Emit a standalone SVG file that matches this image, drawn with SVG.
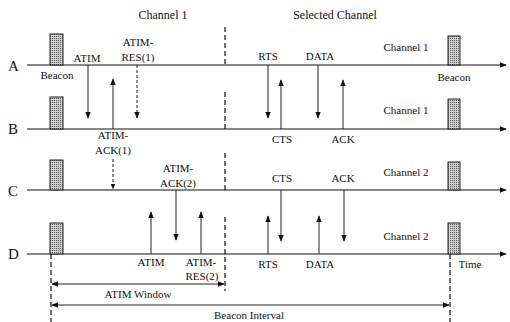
<svg xmlns="http://www.w3.org/2000/svg" width="510" height="322" viewBox="0 0 510 322">
<style>
text{font-family:"Liberation Serif","Times New Roman",serif;font-size:11px;fill:#111}
.big{font-size:15px}
.hdr{font-size:12px}
.tl{stroke:#111;stroke-width:1.2;fill:none}
.msg{stroke:#222;stroke-width:1;fill:none}
.dsh{stroke:#222;stroke-width:1;fill:none;stroke-dasharray:3,2}
.vd{stroke:#111;stroke-width:1.2;fill:none;stroke-dasharray:5,3}
.bcn{fill:url(#dots);stroke:#222;stroke-width:1}
</style>
<defs>
<pattern id="dots" width="2" height="2" patternUnits="userSpaceOnUse">
<rect width="2" height="2" fill="#cfcfcf"/>
<rect width="1" height="1" fill="#555"/>
</pattern>
<marker id="ah" viewBox="0 0 10 10" refX="9" refY="5" markerWidth="7" markerHeight="7" orient="auto-start-reverse" markerUnits="userSpaceOnUse">
<path d="M0,1 L10,5 L0,9 z" fill="#111"/>
</marker>
<marker id="ahs" viewBox="0 0 10 10" refX="9" refY="5" markerWidth="6" markerHeight="6" orient="auto-start-reverse" markerUnits="userSpaceOnUse">
<path d="M0,1 L10,5 L0,9 z" fill="#111"/>
</marker>
</defs>

<g id="headers">
<text class="hdr" x="163" y="19" text-anchor="middle">Channel 1</text>
<text class="hdr" x="335" y="19" text-anchor="middle">Selected Channel</text>
</g>

<g id="nodeA">
<text class="big" x="8" y="71">A</text>
<line class="tl" x1="27" y1="65" x2="506" y2="65" marker-end="url(#ah)"/>
<rect class="bcn" x="50" y="34" width="13" height="31"/>
<rect class="bcn" x="448" y="36" width="12" height="29"/>
<text x="57" y="79" text-anchor="middle">Beacon</text>
<text x="454" y="81" text-anchor="middle">Beacon</text>
<text x="406" y="51" text-anchor="middle">Channel 1</text>
</g>

<g id="nodeB">
<text class="big" x="8" y="134">B</text>
<line class="tl" x1="27" y1="129" x2="506" y2="129" marker-end="url(#ah)"/>
<rect class="bcn" x="50" y="97" width="13" height="32"/>
<rect class="bcn" x="448" y="99" width="12" height="30"/>
<text x="406" y="114" text-anchor="middle">Channel 1</text>
</g>

<g id="nodeC">
<text class="big" x="8" y="196">C</text>
<line class="tl" x1="27" y1="190" x2="506" y2="190" marker-end="url(#ah)"/>
<rect class="bcn" x="50" y="160" width="13" height="30"/>
<rect class="bcn" x="448" y="162" width="12" height="28"/>
<text x="406" y="176" text-anchor="middle">Channel 2</text>
</g>

<g id="nodeD">
<text class="big" x="8" y="259">D</text>
<line class="tl" x1="27" y1="254" x2="506" y2="254" marker-end="url(#ah)"/>
<rect class="bcn" x="50" y="223" width="13" height="31"/>
<rect class="bcn" x="448" y="223" width="12" height="31"/>
<text x="406" y="240" text-anchor="middle">Channel 2</text>
<text x="470" y="268" text-anchor="middle">Time</text>
</g>

<g id="connectors">
<line class="vd" x1="225" y1="27" x2="225" y2="65"/>
<line class="vd" x1="225" y1="92" x2="225" y2="129"/>
<line class="vd" x1="225" y1="153" x2="225" y2="190"/>
<line class="vd" x1="225" y1="217" x2="225" y2="291"/>
<line class="vd" x1="51" y1="254" x2="51" y2="322"/>
<line class="vd" x1="450" y1="254" x2="450" y2="322"/>

<line class="msg" x1="88" y1="65" x2="88" y2="118" marker-end="url(#ah)"/>
<text x="87" y="62" text-anchor="middle">ATIM</text>
<line class="msg" x1="113" y1="129" x2="113" y2="79" marker-end="url(#ah)"/>
<line class="dsh" x1="137" y1="65" x2="137" y2="118" marker-end="url(#ah)"/>
<text x="138" y="46" text-anchor="middle">ATIM-</text>
<text x="138" y="61" text-anchor="middle">RES(1)</text>
<text x="113" y="139" text-anchor="middle">ATIM-</text>
<text x="113" y="154" text-anchor="middle">ACK(1)</text>
<line class="dsh" x1="113" y1="159" x2="113" y2="189" marker-end="url(#ahs)"/>

<text x="178" y="172" text-anchor="middle">ATIM-</text>
<text x="178" y="187" text-anchor="middle">ACK(2)</text>
<line class="msg" x1="176" y1="190" x2="176" y2="240" marker-end="url(#ah)"/>
<line class="msg" x1="151" y1="254" x2="151" y2="212" marker-end="url(#ah)"/>
<line class="msg" x1="201" y1="254" x2="201" y2="212" marker-end="url(#ah)"/>
<text x="151" y="266" text-anchor="middle">ATIM</text>
<text x="201" y="266" text-anchor="middle">ATIM-</text>
<text x="202" y="280" text-anchor="middle">RES(2)</text>

<line class="msg" x1="268" y1="65" x2="268" y2="118" marker-end="url(#ah)"/>
<text x="268" y="60" text-anchor="middle">RTS</text>
<line class="msg" x1="281" y1="129" x2="281" y2="80" marker-end="url(#ah)"/>
<text x="282" y="143" text-anchor="middle">CTS</text>
<line class="msg" x1="318" y1="65" x2="318" y2="118" marker-end="url(#ah)"/>
<text x="320" y="60" text-anchor="middle">DATA</text>
<line class="msg" x1="343" y1="129" x2="343" y2="80" marker-end="url(#ah)"/>
<text x="343" y="143" text-anchor="middle">ACK</text>

<line class="msg" x1="268" y1="254" x2="268" y2="216" marker-end="url(#ah)"/>
<text x="268" y="268" text-anchor="middle">RTS</text>
<line class="msg" x1="281" y1="190" x2="281" y2="241" marker-end="url(#ah)"/>
<text x="282" y="182" text-anchor="middle">CTS</text>
<line class="msg" x1="319" y1="254" x2="319" y2="216" marker-end="url(#ah)"/>
<text x="320" y="268" text-anchor="middle">DATA</text>
<line class="msg" x1="344" y1="190" x2="344" y2="241" marker-end="url(#ah)"/>
<text x="343" y="182" text-anchor="middle">ACK</text>

<line class="msg" x1="52" y1="284" x2="224" y2="284" marker-start="url(#ah)" marker-end="url(#ah)"/>
<text x="138" y="298" text-anchor="middle">ATIM Window</text>
<line class="msg" x1="52" y1="305" x2="449" y2="305" marker-start="url(#ah)" marker-end="url(#ah)"/>
<text x="249" y="319" text-anchor="middle">Beacon Interval</text>
</g>
</svg>
